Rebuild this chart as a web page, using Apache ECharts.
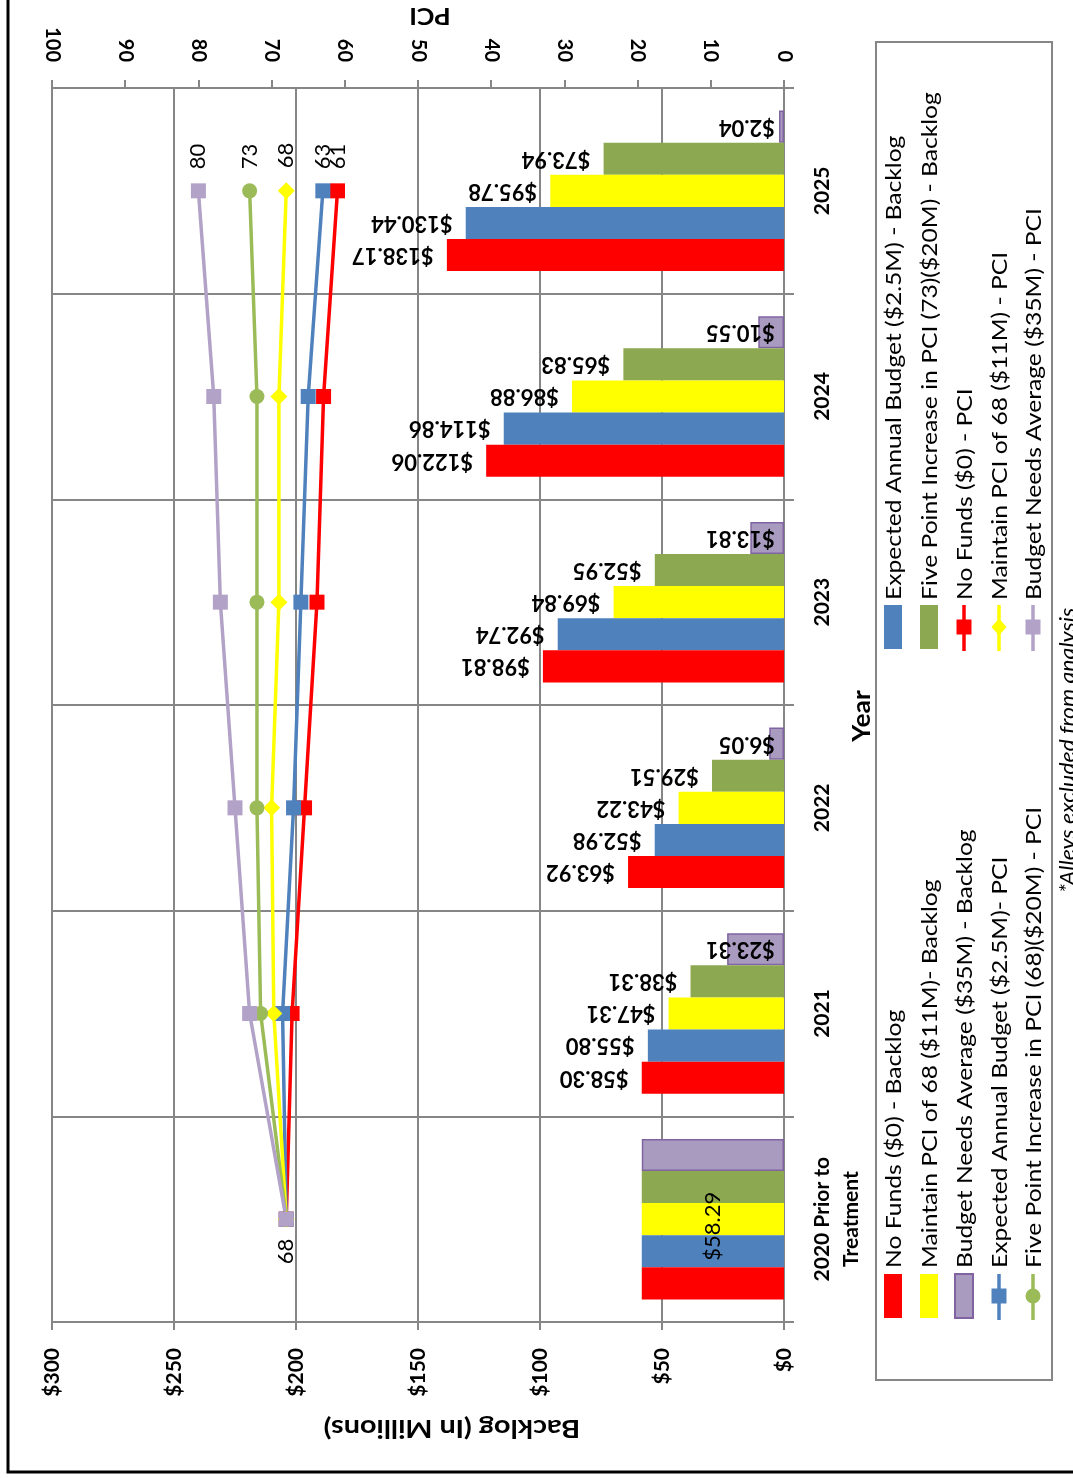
<!DOCTYPE html>
<html><head><meta charset="utf-8">
<script src="https://cdn.jsdelivr.net/npm/echarts@6/dist/echarts.min.js"></script>
<style>html,body{margin:0;padding:0;background:#fff}#c{width:1073px;height:1478px}</style>
</head><body><div id="c"></div>
<script>
// ---------- data ----------
const years = ['2020 Prior to\nTreatment', '2021', '2022', '2023', '2024', '2025'];
const backlogNames = ['No Funds ($0) - Backlog', 'Expected Annual Budget ($2.5M) - Backlog', 'Maintain PCI of 68 ($11M)- Backlog', 'Five Point Increase in PCI (73)($20M) - Backlog', 'Budget Needs Average ($35M) - Backlog'];
const pciNames = ['No Funds ($0) - PCI', 'Expected Annual Budget ($2.5M)- PCI', 'Maintain PCI of 68 ($11M) - PCI', 'Five Point Increase in PCI (68)($20M) - PCI', 'Budget Needs Average ($35M) - PCI'];
const noFundsBacklog = [58.29, 58.30, 63.92, 98.81, 122.06, 138.17];
const expectedBacklog = [58.29, 55.80, 52.98, 92.74, 114.86, 130.44];
const maintainBacklog = [58.29, 47.31, 43.22, 69.84, 86.88, 95.78];
const fivePointBacklog = [58.29, 38.31, 29.51, 52.95, 65.83, 73.94];
const budgetNeedsBacklog = [58.29, 23.31, 6.05, 13.81, 10.55, 2.04];
const noFundsPCI = [68, 67.2, 65.5, 63.8, 62.9, 61];
const expectedPCI = [68, 68.5, 67.0, 66.0, 65.0, 63];
const maintainPCI = [68, 69.7, 70.0, 69.0, 69.0, 68];
const fivePointPCI = [68, 71.5, 72.0, 72.0, 72.0, 73];
const budgetNeedsPCI = [68, 73.0, 75.0, 77.0, 77.9, 80];
const backlogAxisTitle = 'Backlog (In Millions)';
const pciAxisTitle = 'PCI';
const categoryAxisTitle = 'Year';
const footnote = '*Alleys excluded from analysis';

// ---------- style ----------
const FONT = 'Lato, "Open Sans", sans-serif';
const barColors = ['#FF0000', '#4F81BD', '#FFFF00', '#8CA851', '#A99BC0'];
const lineColors = ['#FF0000', '#4F81BD', '#FFFF00', '#9BBB59', '#B3A2C7'];
const symbols = ['rect', 'rect', 'diamond', 'circle', 'rect'];
const backlogSets = [noFundsBacklog, expectedBacklog, maintainBacklog, fivePointBacklog, budgetNeedsBacklog];
const pciSets = [noFundsPCI, expectedPCI, maintainPCI, fivePointPCI, budgetNeedsPCI];
const GRID = '#868686';

const money = v => '$' + v.toFixed(2);

const barSeries = backlogSets.map((arr, si) => ({
  name: backlogNames[si], type: 'bar', xAxisIndex: 0, yAxisIndex: 0,
  barGap: '0%', barCategoryGap: '22%',
  itemStyle: { color: barColors[si], borderColor: si === 4 ? '#8064A2' : null, borderWidth: si === 4 ? 1.5 : 0 },
  data: arr.map((v, i) => {
    const item = { value: v };
    if (i === 0) {
      item.label = si === 2 ? { show: true, position: 'inside', rotate: 90, align: 'center', verticalAlign: 'middle', offset: [-7, 0],
        formatter: p => money(p.value), fontFamily: FONT, fontSize: 22, fontWeight: 'normal', color: '#000' } : { show: false };
    }
    return item;
  }),
  label: si === 4
    ? { show: true, position: 'insideRight', distance: 9, rotate: 180, align: 'left', verticalAlign: 'middle',
        formatter: p => money(p.value), fontFamily: FONT, fontSize: 22, fontWeight: 'bold', color: '#000' }
    : { show: true, position: 'left', distance: 13, rotate: 180, align: 'left', verticalAlign: 'middle',
        formatter: p => money(p.value), fontFamily: FONT, fontSize: 22, fontWeight: 'bold', color: '#000' },
  z: 2
})).reverse(); // horizontal bars: first series is drawn at the top of each band

const lineSeries = pciSets.map((arr, si) => ({
  name: pciNames[si], type: 'line', xAxisIndex: 1, yAxisIndex: 0,
  symbol: symbols[si], symbolSize: si === 2 ? 17 : 15,
  lineStyle: { color: lineColors[si], width: 3.5 },
  itemStyle: { color: lineColors[si] },
  data: arr.map((v, i) => {
    const item = { value: v };
    if (i === arr.length - 1) {
      item.label = { show: true, position: 'top', distance: 14, rotate: 90, align: 'left', verticalAlign: 'middle',
        fontFamily: FONT, fontSize: 22, color: '#000', formatter: p => String(Math.round(p.value)) };
    } else if (i === 0 && si === 4) {
      item.label = { show: true, position: 'bottom', distance: 12, rotate: 90, align: 'right', verticalAlign: 'middle',
        fontFamily: FONT, fontSize: 22, color: '#000', formatter: p => String(Math.round(p.value)) };
    }
    return item;
  }),
  z: 5
}));

// ---------- legend (rotated, drawn as graphics) ----------
const legendX = [893, 929, 964, 999, 1033];
const lowerCol = [['bar', 0], ['bar', 2], ['bar', 4], ['line', 1], ['line', 3]];
const upperCol = [['bar', 1], ['bar', 3], ['line', 0], ['line', 2], ['line', 4]];
const graphics = [];
function marker(type, cx, cy, color) {
  const s = 7.5;
  if (type === 'circle') return { type: 'circle', shape: { cx, cy, r: s }, style: { fill: color } };
  if (type === 'diamond') return { type: 'polygon', shape: { points: [[cx, cy - s - 1], [cx + s, cy], [cx, cy + s + 1], [cx - s, cy]] }, style: { fill: color } };
  return { type: 'rect', shape: { x: cx - s, y: cy - s, width: 2 * s, height: 2 * s }, style: { fill: color } };
}
function legendText(txt, cx, y) {
  return { type: 'text', x: cx + 1, y: y, rotation: Math.PI / 2, scaleX: 1.12,
    style: { text: txt, font: '22px ' + FONT, fill: '#000', align: 'left', verticalAlign: 'middle' } };
}
function addColumn(col, symTop, textY) {
  col.forEach(([kind, idx], k) => {
    const cx = legendX[k];
    if (kind === 'bar') {
      graphics.push({ type: 'rect', shape: { x: cx - 9, y: symTop, width: 18, height: 44 },
        style: { fill: barColors[idx], stroke: idx === 4 ? '#8064A2' : null, lineWidth: idx === 4 ? 2 : 0 } });
      graphics.push(legendText(backlogNames[idx], cx, textY));
    } else {
      graphics.push({ type: 'line', shape: { x1: cx, y1: symTop, x2: cx, y2: symTop + 46 }, style: { stroke: lineColors[idx], lineWidth: 3.5 } });
      graphics.push(marker(symbols[idx], cx, symTop + 22, lineColors[idx]));
      graphics.push(legendText(pciNames[idx], cx, textY));
    }
  });
}
graphics.push({ type: 'rect', shape: { x: 876, y: 42, width: 176, height: 1338 }, style: { fill: null, stroke: GRID, lineWidth: 2 } });
addColumn(lowerCol, 1274, 1268);
addColumn(upperCol, 605, 600);
graphics.push({ type: 'text', x: 430, y: 15, rotation: Math.PI, scaleX: 1.15,
  style: { text: pciAxisTitle, font: 'bold 23px ' + FONT, fill: '#000', align: 'center', verticalAlign: 'middle' } });
graphics.push({ type: 'text', x: 452, y: 1428, rotation: Math.PI, scaleX: 1.2,
  style: { text: backlogAxisTitle, font: 'bold 24px ' + FONT, fill: '#000', align: 'center', verticalAlign: 'middle' } });
graphics.push({ type: 'text', x: 862, y: 716, rotation: Math.PI / 2, scaleX: 1.1,
  style: { text: categoryAxisTitle, font: 'bold 24px ' + FONT, fill: '#000', align: 'center', verticalAlign: 'middle' } });
graphics.push({ type: 'text', x: 1068, y: 893, rotation: Math.PI / 2, scaleX: 1.1,
  style: { text: footnote, font: 'italic 21px ' + FONT, fill: '#000', align: 'left', verticalAlign: 'middle' } });
graphics.push({ type: 'rect', shape: { x: 8, y: -5, width: 1100, height: 1477 }, style: { fill: null, stroke: '#000', lineWidth: 3 } });

const chart = echarts.init(document.getElementById('c'), null, { renderer: 'canvas' });
chart.setOption({
  backgroundColor: '#fff',
  animation: false,
  grid: { left: 52, right: 289, top: 88, bottom: 156 },
  xAxis: [
    { type: 'value', position: 'bottom', inverse: true, min: 0, max: 300, interval: 50,
      axisLine: { show: true, lineStyle: { color: GRID, width: 2 } },
      axisTick: { show: true, length: 8, lineStyle: { color: GRID, width: 2 } },
      splitLine: { show: true, lineStyle: { color: GRID, width: 2 } },
      axisLabel: { rotate: 90, margin: 26, formatter: v => '$' + v, fontFamily: FONT, fontWeight: 'bold', fontSize: 21, color: '#000' } },
    { type: 'value', position: 'top', inverse: true, min: 0, max: 100, interval: 10,
      axisLine: { show: true, lineStyle: { color: GRID, width: 2 } },
      axisTick: { show: true, length: 8, lineStyle: { color: GRID, width: 2 } },
      splitLine: { show: false },
      axisLabel: { rotate: 90, margin: 26, fontFamily: FONT, fontWeight: 'bold', fontSize: 20, color: '#000' } }
  ],
  yAxis: [
    { type: 'category', position: 'right', data: years,
      axisLine: { show: true, lineStyle: { color: GRID, width: 2 } },
      axisTick: { show: true, length: 10, lineStyle: { color: GRID, width: 2 } },
      splitLine: { show: true, lineStyle: { color: GRID, width: 2 } },
      axisLabel: { rotate: 90, margin: 24, fontFamily: FONT, fontWeight: 'bold', fontSize: 21, color: '#000', lineHeight: 29 } }
  ],
  series: barSeries.concat(lineSeries),
  graphic: graphics
});
</script>
</body></html>
